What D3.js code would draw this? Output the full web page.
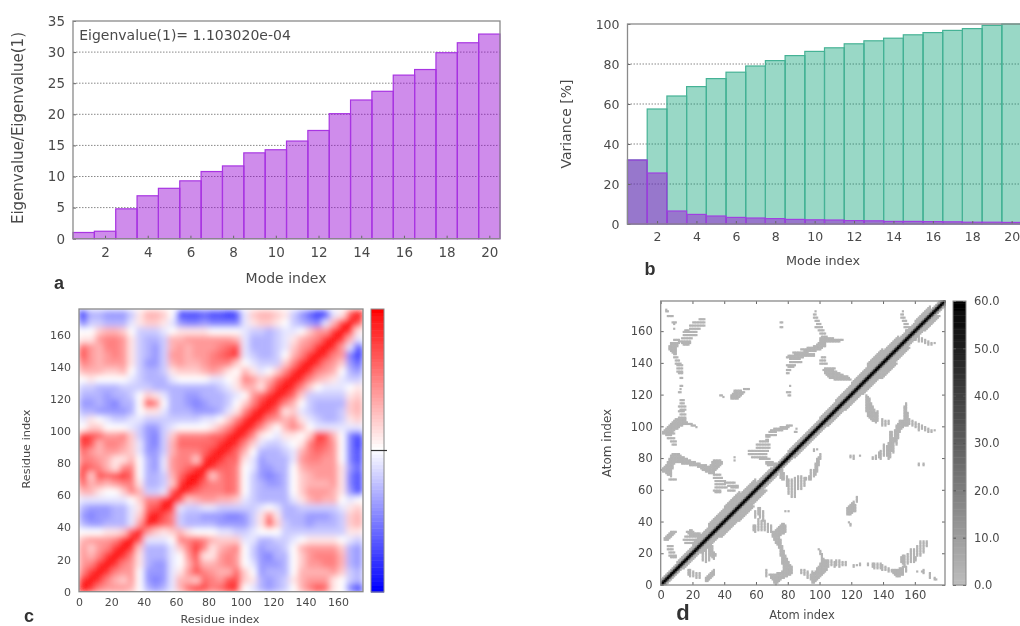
<!DOCTYPE html>
<html lang=en>
<meta charset=utf-8>
<title>Normal mode analysis</title>
<style>
    html, body { margin: 0; background: #fff; }
    svg { display: block; }
    text { font-family: "DejaVu Sans", sans-serif; fill: #4a4a4a; }
</style>
<svg id=chart width=1020 height=626></svg>
<script src=https://d3js.org/d3.v7.min.js></script>
<script>
// panel a / b
var modes = d3.range(1, 21);
var modeTicks = [2, 4, 6, 8, 10, 12, 14, 16, 18, 20];
var eigenRatio = [1.0, 1.2, 4.8, 6.9, 8.1, 9.3, 10.8, 11.7, 13.8, 14.3, 15.7, 17.4, 20.1, 22.3, 23.7, 26.3, 27.2, 29.9, 31.5, 32.9];
var varianceCum = [32, 57.5, 64, 68.7, 72.7, 75.9, 79, 81.7, 84.2, 86.3, 88.1, 90.1, 91.6, 92.9, 94.6, 95.7, 96.8, 97.7, 99.3, 100];
var varianceInd = [32, 25.5, 6.5, 4.8, 4, 3.3, 3, 2.7, 2.3, 2.1, 2, 1.7, 1.6, 1.3, 1.3, 1.2, 1.1, 0.9, 0.9, 0.8];
var eigenTicks = [0, 5, 10, 15, 20, 25, 30, 35];
var varianceTicks = [0, 20, 40, 60, 80, 100];

// panel c: correlation, one row per 5 residues, bottom row first, lower triangle only (-10 blue, 10 red)
var residueTicks = [0, 20, 40, 60, 80, 100, 120, 140, 160];
var corrBin = 5;
var corrRows = [
    [10],
    [8,10],
    [5,8,10],
    [4,5,8,10],
    [4,3,5,8,10],
    [4,2,4,5,8,10],
    [3,4,4,4,5,8,10],
    [0,0,0,1,1,2,7,10],
    [-3,-4,-4,-3,-3,-3,-1,4,10],
    [-4,-5,-4,-4,-3,-3,-1,2,8,10],
    [-3,-4,-4,-4,-3,-3,-1,1,6,7,10],
    [-1,-1,-1,-1,-1,-1,0,2,5,5,8,10],
    [3,3,1,0,0,2,5,3,-2,-2,-1,7,10],
    [6,3,4,3,4,5,5,1,-3,-3,-2,2,8,10],
    [8,2,7,6,7,8,6,0,-3,-3,-2,3,6,9,10],
    [7,6,5,3,1,5,5,0,-3,-4,-1,4,5,6,8,10],
    [5,5,4,3,1,1,3,0,-3,-4,-1,4,5,5,2,8,10],
    [6,4,3,4,4,3,2,-1,-4,-4,-2,3,5,5,5,6,8,10],
    [8,7,3,5,5,4,2,-1,-4,-5,-2,3,6,6,6,6,6,8,10],
    [8,7,6,4,4,5,2,-2,-4,-5,-2,2,5,5,5,5,6,6,8,10],
    [0,2,2,0,0,0,-1,-2,-4,-4,-2,-1,0,0,0,0,1,3,5,8,10],
    [-1,1,0,-1,-2,-2,-1,-1,-2,-2,-2,-2,-2,-2,-2,-1,-1,0,2,5,8,10],
    [-3,-3,-4,-4,-4,-4,-3,0,1,1,-1,-3,-3,-3,-4,-4,-4,-3,-1,1,5,8,10],
    [-4,-4,-3,-4,-5,-3,-3,0,7,5,0,-3,-3,-4,-5,-4,-3,-3,-2,0,2,5,8,10],
    [-3,-3,-3,-4,-3,-3,-2,0,2,1,-1,-3,-3,-4,-4,-3,-3,-3,-2,-1,0,4,6,8,10],
    [-2,-2,-3,-3,-3,-2,-2,-2,-2,-3,-3,-3,-3,-3,-3,-3,-3,-2,-1,1,3,3,1,5,8,10],
    [0,1,0,0,0,0,-1,-2,-3,-3,-3,-1,0,0,0,0,-1,-1,0,1,5,4,2,3,6,8,10],
    [3,3,3,2,2,3,0,-2,-3,-3,-2,1,2,2,2,3,4,3,1,0,3,1,-1,0,2,5,8,10],
    [5,4,3,4,4,4,1,-2,-4,-4,-2,3,4,3,3,4,5,5,5,2,0,-1,-2,-2,-2,2,5,8,10],
    [7,4,3,4,5,4,1,-2,-3,-4,-2,4,4,3,4,4,5,6,7,8,-1,-2,-3,-3,-2,0,3,5,8,10],
    [6,4,3,5,5,4,1,-2,-3,-4,-2,3,4,3,4,4,4,5,6,7,-1,-3,-3,-3,-2,-1,2,4,5,8,10],
    [1,1,4,5,5,4,1,-2,-3,-3,-2,3,3,4,4,4,4,4,4,3,-1,-3,-3,-3,-2,-1,1,3,4,5,8,10],
    [0,0,2,3,3,2,0,-2,-2,-2,-1,0,1,1,1,1,0,0,0,0,-1,-2,-2,-3,-2,-1,-1,0,2,4,4,8,10],
    [-5,-2,-2,-3,-3,-3,-1,1,2,2,1,-1,-4,-5,-5,-4,-5,-5,-5,-5,-1,1,2,2,1,0,-2,-3,-4,-5,-1,3,8,10],
    [-8,-3,-3,-4,-4,-4,-2,1,3,3,2,0,-7,-7,-7,-6,-7,-7,-8,-7,-1,2,3,3,2,1,-2,-4,-6,-8,-7,-1,1,7,10]
];

// panel d: contacts as runs [atom j, atom i from, atom i to], upper-left half only
var atomTicks = [0, 20, 40, 60, 80, 100, 120, 140, 160];
var contactTicks = [0, 10, 20, 30, 40, 50, 60];
var contactValue = 3;
var contactRuns = [
    [173,3,3],[172,3,4],[169,4,7],[165,7,9],[164,8,8],[161,8,8],
    [167,24,27],[165,20,27],[163,18,27],[161,18,24],[160,15,17],[159,14,22],[157,14,22],[155,13,19],[153,11,18],[152,13,18],[151,14,17],
    [154,8,11],[152,6,11],[151,6,10],[150,5,10],[149,5,9],[148,5,9],[147,6,9],[146,7,9],[145,8,9],[143,8,10],[141,9,11],[139,9,12],[138,10,13],[136,10,13],[134,10,13],[133,11,13],[130,12,13],
    [125,12,13],[123,12,12],[121,11,12],
    [116,12,14],[114,12,14],[112,11,15],[110,12,15],[109,11,14],[107,12,15],[105,11,15],[104,9,15],[103,8,15],[102,7,16],[101,6,19],[100,5,13],[99,4,11],[100,19,21],[99,22,22],[98,3,10],[97,2,8],[96,1,7],[95,1,8],[94,3,6],[92,4,8],[90,6,9],[88,7,9],
    [82,7,11],[81,6,12],[80,6,14],[79,5,16],[78,5,18],[77,4,21],[76,4,8],[76,13,24],[75,3,7],[75,18,28],[74,2,7],[74,23,36],[73,1,7],[73,25,35],[72,0,6],[72,26,34],[71,1,6],[71,28,33],[70,3,6],[70,30,33],[69,4,6],[68,6,6],[66,5,9],[77,32,38],[76,32,38],[78,33,37],[75,31,37],
    [69,33,37],[67,33,38],[65,34,40],[63,34,40],[61,34,41],[59,33,37],[58,34,37],
    [80,46,46],[78,46,46],[64,40,46],[62,42,48],[61,44,48],[59,42,46],
    [33,6,9],[32,5,8],[31,4,7],[30,3,6],[29,2,5],[28,2,4],[24,4,7],[22,4,7],[20,5,8],[18,5,9],[17,6,9],
    [34,18,19],[33,16,20],[32,17,24],[31,18,26],[30,15,28],[28,14,26],[26,15,24],
    [123,52,55],[122,46,50],[121,46,52],[120,45,51],[119,37,38],[119,44,50],[118,39,39],[118,44,49],[117,44,48],
    [119,80,81],[121,79,81],[125,81,81],
    [146,83,92],[145,84,96],[144,80,96],[143,79,89],[147,90,97],[148,88,100],[149,92,101],[150,96,103],[151,98,103],[152,99,103],[153,100,112],[154,100,114],[155,100,108],[156,101,104],[158,100,103],[160,99,102],[162,97,101],[164,98,100],[166,97,99],[168,96,98],[170,96,97],[172,97,97],
    [142,81,87],[140,81,88],[138,79,84],[137,80,83],[135,79,81],[133,79,80],[143,101,103],[141,100,103],[139,100,104],[136,103,109],[135,102,108],[134,103,110],[133,103,112],[132,104,114],[131,105,117],[130,106,118],[129,109,119],[165,75,76],[162,75,76],
    [100,79,82],[99,75,80],[98,71,79],[97,69,76],[96,68,72],[94,66,72],[93,66,68],[91,66,67],[90,62,67],[88,60,68],[86,60,68],[84,55,67],[82,55,66],[80,57,66],[79,62,68],[77,66,70],[76,66,72],[75,67,74],[98,85,85],[96,84,85],
    [172,152,152],[170,151,152],[168,151,153],[166,152,154],[164,153,155],[162,153,156],[160,154,157]
];
// half width of the grey band round the diagonal, one entry per 10 atoms
var bandHalfWidth = [3,4,6,8,9,7,4,3,4,4,5,6,7,9,7,5,6,3];
// value by distance from the diagonal
var diagonalValues = [60, 36, 8, 3];
var atomMax = 179;

var svg = d3.select("#chart");
var defs = svg.append("defs");
defs.append("filter").attr("id", "soft").attr("filterUnits", "userSpaceOnUse")
    .attr("x", 0).attr("y", 0).attr("width", 1020).attr("height", 626)
    .append("feGaussianBlur").attr("stdDeviation", 0.7);
var root = svg.append("g").attr("filter", "url(#soft)");

var axisColor = "#8a8a8a";

function blurFor(id, box, sd) {
    defs.append("filter").attr("id", id).attr("filterUnits", "userSpaceOnUse")
        .attr("x", box.x).attr("y", box.y).attr("width", box.w).attr("height", box.h)
        .append("feGaussianBlur").attr("stdDeviation", sd).attr("edgeMode", "duplicate");
}

// axes with the small gnuplot ticks; opts: xTicks, yTicks, fontSize, tickSize, tickPad
function drawAxes(x, y, opts) {
    var x0 = x.range()[0], x1 = x.range()[1], y0 = y.range()[0], y1 = y.range()[1];
    var bottom = root.append("g").attr("transform", "translate(0," + y0 + ")")
        .call(d3.axisBottom(x).tickValues(opts.xTicks).tickSize(-opts.tickSize).tickPadding(opts.padX));
    var left = root.append("g").attr("transform", "translate(" + x0 + ",0)")
        .call(d3.axisLeft(y).tickValues(opts.yTicks).tickSize(-opts.tickSize).tickPadding(opts.padY));
    [bottom, left].forEach(function (a) {
        a.select(".domain").remove();
        a.selectAll("line").attr("stroke", "#666");
        a.selectAll("text").attr("font-size", opts.fontSize).attr("font-family", null);
    });
    if (opts.mirror) {
        root.append("g").attr("transform", "translate(0," + y1 + ")")
            .call(d3.axisTop(x).tickValues(opts.xTicks).tickSize(-opts.tickSize).tickFormat(""))
            .call(function (a) { a.select(".domain").remove(); a.selectAll("line").attr("stroke", "#666"); });
        root.append("g").attr("transform", "translate(" + x1 + ",0)")
            .call(d3.axisRight(y).tickValues(opts.yTicks).tickSize(-opts.tickSize).tickFormat(""))
            .call(function (a) { a.select(".domain").remove(); a.selectAll("line").attr("stroke", "#666"); });
    }
    root.append("rect").attr("x", x0).attr("y", y1).attr("width", x1 - x0).attr("height", y0 - y1)
        .attr("fill", "none").attr("stroke", axisColor).attr("stroke-width", 1.3);
}

function label(txt, x, y, size, rotate) {
    var t = root.append("text").attr("text-anchor", "middle").attr("font-size", size).text(txt);
    if (rotate) t.attr("transform", "translate(" + x + "," + y + ") rotate(-90)");
    else t.attr("x", x).attr("y", y);
    return t;
}

function panelTag(txt, x, y, size) {
    label(txt, x, y, size).attr("font-weight", "bold")
        .style("fill", "#333").style("font-family", '"Liberation Sans", sans-serif');
}

function gridLines(x, y, ticks) {
    root.append("g").selectAll("line").data(ticks).join("line")
        .attr("x1", x.range()[0]).attr("x2", x.range()[1])
        .attr("y1", function (d) { return y(d); }).attr("y2", function (d) { return y(d); })
        .attr("stroke", "#888").attr("stroke-width", 1).attr("stroke-dasharray", "1.5,1.5");
}

function bars(x, y, values, fill, stroke, fillOpacity) {
    root.append("g").selectAll("rect").data(values).join("rect")
        .attr("x", function (d, i) { return x(modes[i] - 0.5); })
        .attr("width", function (d, i) { return x(modes[i] + 0.5) - x(modes[i] - 0.5); })
        .attr("y", function (d) { return y(d); })
        .attr("height", function (d) { return y(0) - y(d); })
        .attr("fill", fill).attr("fill-opacity", fillOpacity)
        .attr("stroke", stroke).attr("stroke-width", 1.2);
}

// a
(function () {
    var x = d3.scaleLinear().domain([0.5, 20.5]).range([73, 500]);
    var y = d3.scaleLinear().domain([0, 35]).range([238.7, 21]);
    gridLines(x, y, eigenTicks.slice(1, -1));
    bars(x, y, eigenRatio, "#9400d3", "#a835e2", 0.45);
    drawAxes(x, y, { xTicks: modeTicks, yTicks: eigenTicks, fontSize: 13.5, tickSize: 3, padX: 9, padY: 8 });
    label("Eigenvalue(1)= 1.103020e-04", 185, 40, 14);
    label("Mode index", 286, 283, 14);
    label("Eigenvalue/Eigenvalue(1)", 23, 128, 15, true);
    panelTag("a", 59, 289, 18);
})();

// b
(function () {
    var x = d3.scaleLinear().domain([0.5, 20.5]).range([627.5, 1021.5]);
    var y = d3.scaleLinear().domain([0, 100]).range([224, 24]);
    gridLines(x, y, varianceTicks.slice(1, -1));
    bars(x, y, varianceCum, "#009e73", "#45b295", 0.4);
    bars(x, y, varianceInd, "#9400d3", "#a040e0", 0.45);
    drawAxes(x, y, { xTicks: modeTicks, yTicks: varianceTicks, fontSize: 12.5, tickSize: 3, padX: 8, padY: 8 });
    label("Mode index", 823, 265, 12.8);
    label("Variance [%]", 571, 124, 14, true);
    panelTag("b", 650, 275, 18);
})();

// c
(function () {
    var x = d3.scaleLinear().domain([0, 175.5]).range([79, 363]);
    var y = d3.scaleLinear().domain([0, 176]).range([591.7, 309]);
    var corrColor = d3.scaleLinear().domain([-10, 0, 10]).range(["#0000ff", "#ffffff", "#ff0000"]);

    var cells = [];
    corrRows.forEach(function (row, j) {
        row.forEach(function (v, i) {
            cells.push({ i: i, j: j, v: v });
            if (i != j) cells.push({ i: j, j: i, v: v });
        });
    });

    var box = { x: 79, y: 309, w: 284, h: 283 };
    blurFor("heat", box, 3);
    defs.append("clipPath").attr("id", "heatClip").append("rect")
        .attr("x", box.x).attr("y", box.y).attr("width", box.w).attr("height", box.h);
    root.append("g").attr("clip-path", "url(#heatClip)").append("g").attr("filter", "url(#heat)")
        .selectAll("rect").data(cells).join("rect")
        .attr("x", function (d) { return x(d.i * corrBin); })
        .attr("y", function (d) { return y((d.j + 1) * corrBin); })
        .attr("width", x(corrBin) - x(0) + 0.5)
        .attr("height", y(0) - y(corrBin) + 0.5)
        .attr("fill", function (d) { return corrColor(d.v); });

    drawAxes(x, y, { xTicks: residueTicks, yTicks: residueTicks, fontSize: 11, tickSize: 0, padX: 7, padY: 8 });

    var bar = d3.scaleLinear().domain([-10, 10]).range([592, 309]);
    root.append("g").selectAll("rect").data(d3.range(-10, 10, 0.25)).join("rect")
        .attr("x", 371).attr("width", 13)
        .attr("y", function (d) { return bar(d + 0.25); })
        .attr("height", bar(0) - bar(0.25) + 0.5)
        .attr("fill", function (d) { return corrColor(d); });
    root.append("rect").attr("x", 371).attr("y", 309).attr("width", 13).attr("height", 283)
        .attr("fill", "none").attr("stroke", axisColor);
    root.append("line").attr("x1", 371).attr("x2", 387).attr("y1", bar(0)).attr("y2", bar(0))
        .attr("stroke", "#333").attr("stroke-width", 1.2);

    label("Residue index", 220, 623, 11.3);
    label("Residue index", 30, 449, 11.3, true);
    panelTag("c", 29, 622, 18);
})();

// d
(function () {
    var x = d3.scaleLinear().domain([0, atomMax]).range([660.7, 945]);
    var y = d3.scaleLinear().domain([0, atomMax]).range([585, 301]);
    var grey = d3.scaleLinear().domain([0, 60]).range(["#bcbcbc", "#000000"]);

    var cells = [];
    function add(i, j, v) {
        cells.push({ i: i, j: j, v: v });
        if (i != j) cells.push({ i: j, j: i, v: v });
    }
    contactRuns.forEach(function (r) {
        d3.range(r[1], r[2] + 1).forEach(function (i) { add(i, r[0], contactValue); });
    });
    d3.range(0, atomMax).forEach(function (i) {
        var hw = bandHalfWidth[Math.floor(i / 10)];
        d3.range(hw, -1, -1).forEach(function (d) {
            if (i + d > atomMax) return;
            add(i, i + d, d < diagonalValues.length ? diagonalValues[d] : contactValue);
        });
    });
    // lightest first so the dark diagonal ends up on top
    cells.sort(function (a, b) { return a.v - b.v; });

    var box = { x: 660, y: 300, w: 286, h: 286 };
    blurFor("contact", box, 0.7);
    root.append("g").attr("filter", "url(#contact)")
        .selectAll("rect").data(cells).join("rect")
        .attr("x", function (d) { return x(d.i) - 0.3; })
        .attr("y", function (d) { return y(d.j + 1) - 0.3; })
        .attr("width", x(1) - x(0) + 0.6)
        .attr("height", y(0) - y(1) + 0.6)
        .attr("fill", function (d) { return grey(d.v); });

    drawAxes(x, y, { xTicks: atomTicks, yTicks: atomTicks, fontSize: 11.5, tickSize: 3, padX: 6, padY: 8, mirror: true });

    var bar = d3.scaleLinear().domain([0, 60]).range([585, 301]);
    root.append("g").selectAll("rect").data(d3.range(0, 60, 0.5)).join("rect")
        .attr("x", 953).attr("width", 13)
        .attr("y", function (d) { return bar(d + 0.5); })
        .attr("height", bar(0) - bar(0.5) + 0.5)
        .attr("fill", function (d) { return grey(d); });
    var barAxis = root.append("g").attr("transform", "translate(966,0)")
        .call(d3.axisRight(bar).tickValues(contactTicks).tickSize(-13).tickPadding(8).tickFormat(d3.format(".1f")));
    barAxis.select(".domain").remove();
    barAxis.selectAll("line").attr("stroke", "#555").attr("stroke-dasharray", "3,7");
    barAxis.selectAll("text").attr("font-size", 11.5).attr("font-family", null);
    root.append("rect").attr("x", 953).attr("y", 301).attr("width", 13).attr("height", 284)
        .attr("fill", "none").attr("stroke", axisColor);

    label("Atom index", 802, 619, 11.5);
    label("Atom index", 611, 443, 12, true);
    panelTag("d", 683, 620, 22);
})();
</script>
